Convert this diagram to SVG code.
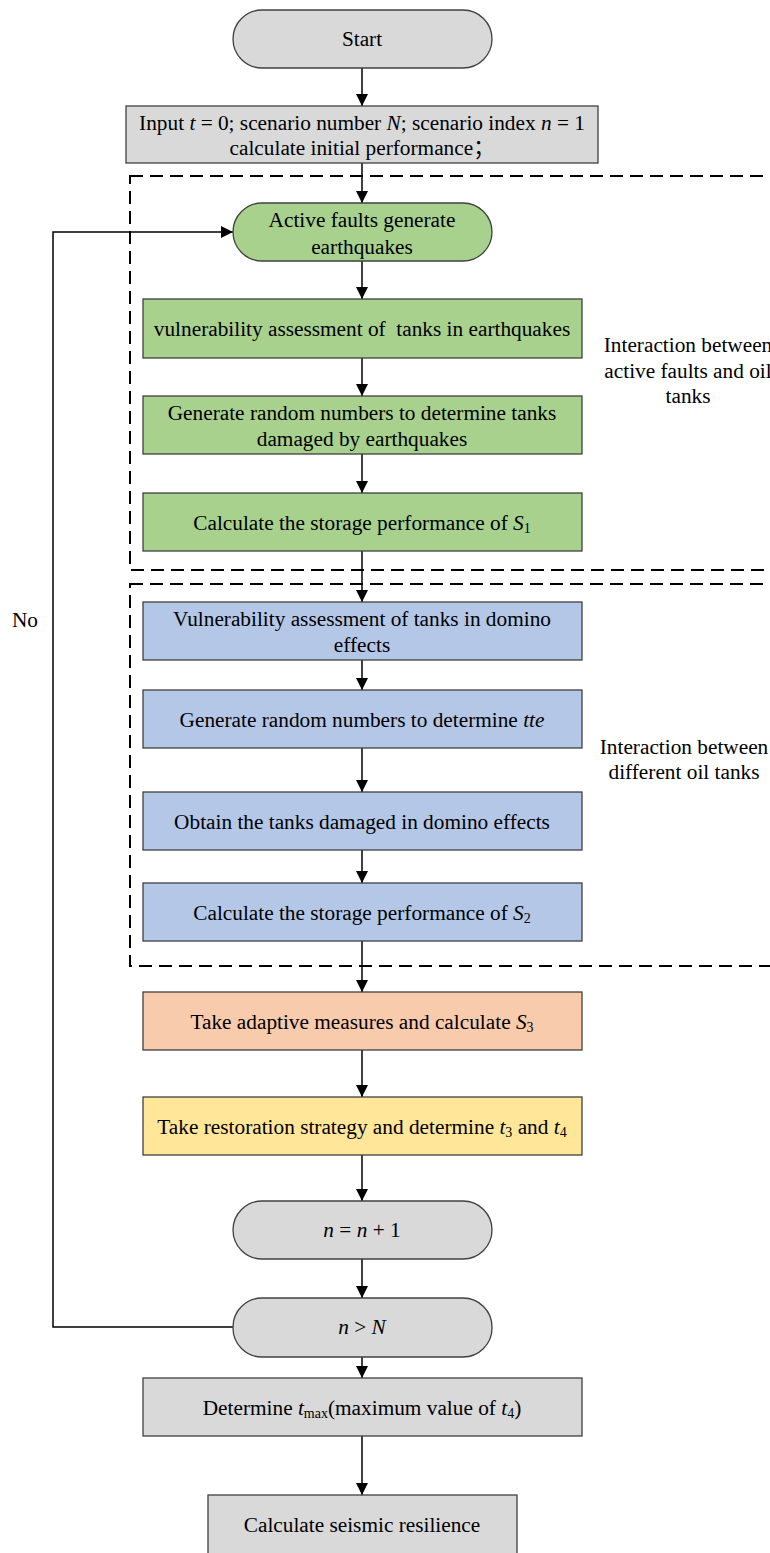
<svg xmlns="http://www.w3.org/2000/svg" width="770" height="1553" viewBox="0 0 770 1553" font-family="'Liberation Serif', 'Times New Roman', 'Noto Sans CJK SC', serif" font-size="21.3">
<style>
text{fill:#000;text-anchor:middle}
.i{font-style:italic}
.sb{font-size:14px}
.nd{stroke:#404040;stroke-width:1.3}
.g{fill:#D9D9D9}.gr{fill:#A9D18E}.bl{fill:#B4C7E7}.or{fill:#F8CBAD}.ye{fill:#FFE699}
.ln{stroke:#000;stroke-width:1.5;fill:none}
.dash{stroke:#000;stroke-width:2;fill:none;stroke-dasharray:13 7}
</style>
<defs>
<marker id="ar" markerWidth="12" markerHeight="12" refX="12" refY="6" orient="auto" markerUnits="userSpaceOnUse">
<path d="M0,0 L12,6 L0,12 Z" fill="#000"/>
</marker>
</defs>
<rect width="770" height="1553" fill="#fff"/>
<g id="groups">
<rect class="dash" x="130" y="176" width="680" height="394"/>
<rect class="dash" x="130" y="584" width="680" height="382"/>
<text x="688" y="352">Interaction between</text>
<text x="688" y="378">active faults and oil</text>
<text x="688" y="403">tanks</text>
<text x="684" y="754">Interaction between</text>
<text x="684" y="779">different oil tanks</text>
</g>
<g id="connectors">
<line class="ln" x1="362" y1="68" x2="362" y2="106" marker-end="url(#ar)"/>
<line class="ln" x1="362" y1="163" x2="362" y2="203" marker-end="url(#ar)"/>
<line class="ln" x1="362" y1="261" x2="362" y2="299" marker-end="url(#ar)"/>
<line class="ln" x1="362" y1="358" x2="362" y2="396" marker-end="url(#ar)"/>
<line class="ln" x1="362" y1="454" x2="362" y2="493" marker-end="url(#ar)"/>
<line class="ln" x1="362" y1="551" x2="362" y2="602" marker-end="url(#ar)"/>
<line class="ln" x1="362" y1="660" x2="362" y2="690" marker-end="url(#ar)"/>
<line class="ln" x1="362" y1="748" x2="362" y2="792" marker-end="url(#ar)"/>
<line class="ln" x1="362" y1="850" x2="362" y2="883" marker-end="url(#ar)"/>
<line class="ln" x1="362" y1="941" x2="362" y2="992" marker-end="url(#ar)"/>
<line class="ln" x1="362" y1="1050" x2="362" y2="1097" marker-end="url(#ar)"/>
<line class="ln" x1="362" y1="1155" x2="362" y2="1201" marker-end="url(#ar)"/>
<line class="ln" x1="362" y1="1259" x2="362" y2="1298" marker-end="url(#ar)"/>
<line class="ln" x1="362" y1="1357" x2="362" y2="1378" marker-end="url(#ar)"/>
<line class="ln" x1="362" y1="1436" x2="362" y2="1495" marker-end="url(#ar)"/>
<polyline class="ln" points="233,1327 53,1327 53,232 233,232" marker-end="url(#ar)"/>
<text x="25" y="627">No</text>
</g>
<g id="start"><rect class="nd g" x="233" y="10" width="259" height="58" rx="29"/><text x="362" y="46">Start</text></g>
<g id="input"><rect class="nd g" x="126" y="106" width="472" height="57"/>
<text x="362" y="130">Input <tspan class="i">t</tspan> = 0; scenario number <tspan class="i">N</tspan>; scenario index <tspan class="i">n</tspan> = 1</text>
<text x="362" y="155">calculate initial performance；</text></g>
<g id="faults"><rect class="nd gr" x="233" y="203" width="259" height="58" rx="29"/>
<text x="362" y="227">Active faults generate</text><text x="362" y="254">earthquakes</text></g>
<g id="vuln-eq"><rect class="nd gr" x="143" y="299" width="439" height="59"/>
<text x="362" y="336" style="white-space:pre">vulnerability assessment of  tanks in earthquakes</text></g>
<g id="random-eq"><rect class="nd gr" x="143" y="396" width="439" height="58"/>
<text x="362" y="420">Generate random numbers to determine tanks</text><text x="362" y="446">damaged by earthquakes</text></g>
<g id="s1"><rect class="nd gr" x="143" y="493" width="439" height="58"/>
<text x="362" y="530">Calculate the storage performance of <tspan class="i">S</tspan><tspan class="sb" dy="3">1</tspan></text></g>
<g id="vuln-domino"><rect class="nd bl" x="143" y="602" width="439" height="58"/>
<text x="362" y="626">Vulnerability assessment of tanks in domino</text><text x="362" y="652">effects</text></g>
<g id="tte"><rect class="nd bl" x="143" y="690" width="439" height="58"/>
<text x="362" y="727">Generate random numbers to determine <tspan class="i">tte</tspan></text></g>
<g id="obtain"><rect class="nd bl" x="143" y="792" width="439" height="58"/>
<text x="362" y="829">Obtain the tanks damaged in domino effects</text></g>
<g id="s2"><rect class="nd bl" x="143" y="883" width="439" height="58"/>
<text x="362" y="920">Calculate the storage performance of <tspan class="i">S</tspan><tspan class="sb" dy="3">2</tspan></text></g>
<g id="s3"><rect class="nd or" x="143" y="992" width="439" height="58"/>
<text x="362" y="1029">Take adaptive measures and calculate <tspan class="i">S</tspan><tspan class="sb" dy="3">3</tspan></text></g>
<g id="restore"><rect class="nd ye" x="143" y="1097" width="439" height="58"/>
<text x="362" y="1134">Take restoration strategy and determine <tspan class="i">t</tspan><tspan class="sb" dy="3">3</tspan><tspan dy="-3"> and </tspan><tspan class="i">t</tspan><tspan class="sb" dy="3">4</tspan></text></g>
<g id="increment"><rect class="nd g" x="233" y="1201" width="259" height="58" rx="29"/>
<text x="362" y="1237"><tspan class="i">n</tspan> = <tspan class="i">n</tspan> + 1</text></g>
<g id="check"><rect class="nd g" x="233" y="1298" width="259" height="59" rx="29"/>
<text x="362" y="1334"><tspan class="i">n</tspan> &gt; <tspan class="i">N</tspan></text></g>
<g id="tmax"><rect class="nd g" x="143" y="1378" width="439" height="58"/>
<text x="362" y="1415">Determine <tspan class="i">t</tspan><tspan class="sb" dy="3">max</tspan><tspan dy="-3">(maximum value of </tspan><tspan class="i">t</tspan><tspan class="sb" dy="3">4</tspan><tspan dy="-3">)</tspan></text></g>
<g id="resilience"><rect class="nd g" x="208" y="1495" width="309" height="70"/>
<text x="362" y="1532">Calculate seismic resilience</text></g>
</svg>
